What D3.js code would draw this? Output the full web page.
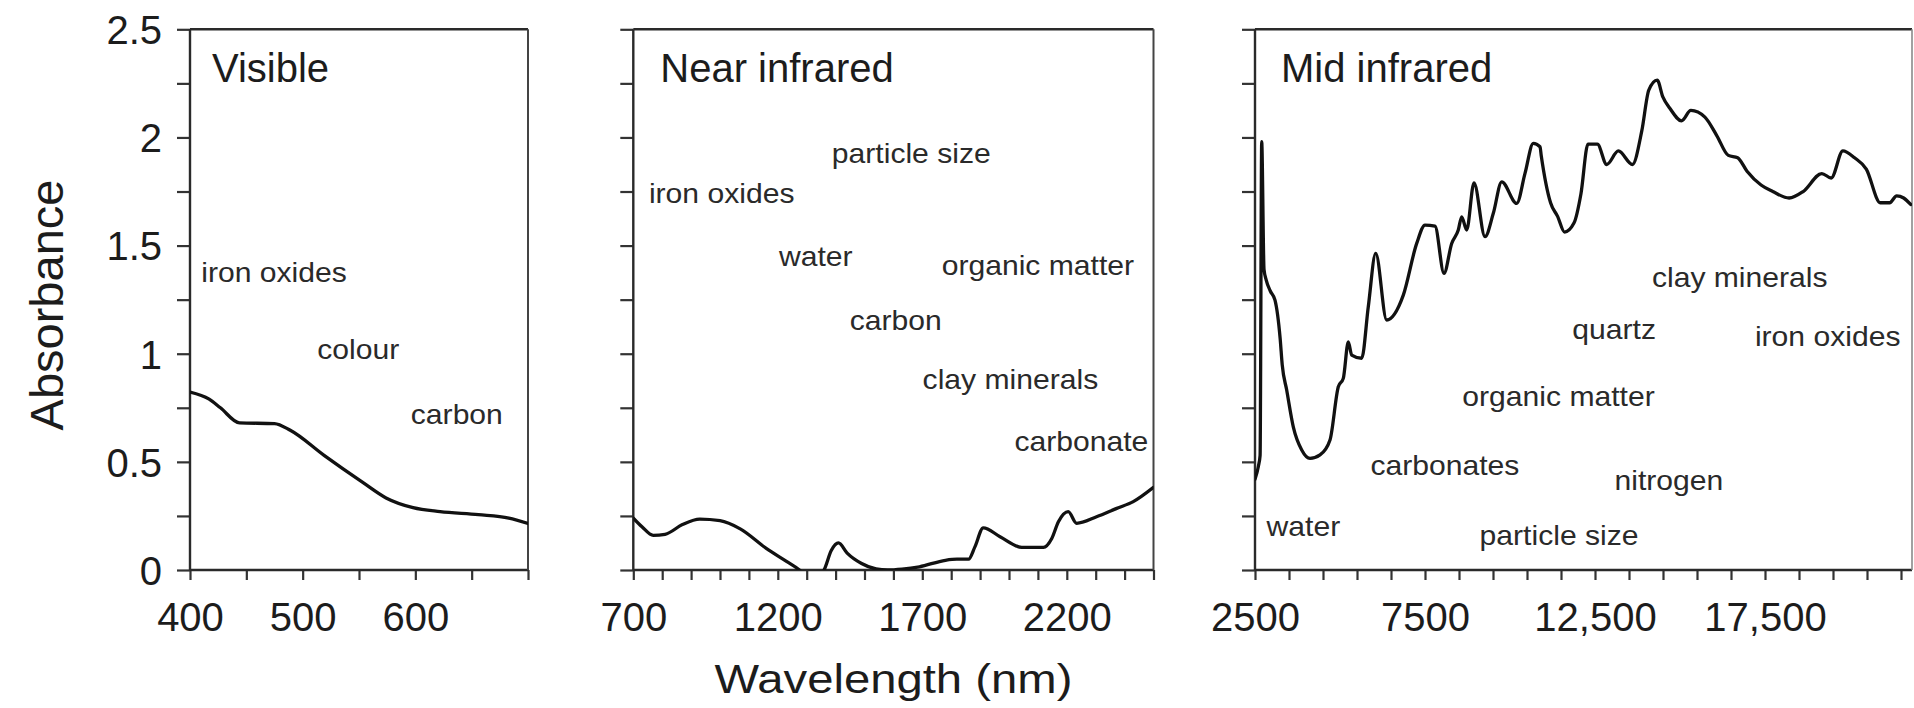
<!DOCTYPE html>
<html>
<head>
<meta charset="utf-8">
<script src="https://cdn.jsdelivr.net/npm/d3@7"></script>
<style>
  html, body { margin: 0; padding: 0; background: #fff; }
  svg { display: block; font-family: "Liberation Sans", Arial, Helvetica, sans-serif; }
</style>
</head>
<body>
<svg id="chart" width="1914" height="708"></svg>
<script>
// ---- Visible region (400–700 nm) ----
const visWavelength = [400, 417, 427, 444, 475, 489, 519, 553, 574, 598, 622, 656, 683, 700];
const visAbsorbance = [0.823, 0.79, 0.75, 0.68, 0.677, 0.646, 0.53, 0.406, 0.333, 0.288, 0.27, 0.256, 0.24, 0.215];

// ---- Near infrared (700–2500 nm) ----
const nirWavelength = [700, 730, 769, 810, 870, 930, 1000, 1070, 1160, 1230, 1275, 1300, 1340, 1360,
  1385, 1410, 1440, 1490, 1540, 1580, 1630, 1690, 1780, 1820, 1860, 1882, 1911, 1969,
  2044, 2119, 2148, 2171, 2205, 2234, 2303, 2373, 2430, 2500];
const nirAbsorbance = [0.24, 0.2, 0.16, 0.165, 0.21, 0.235, 0.228, 0.19, 0.1, 0.04, 0.0, -0.03, -0.03, 0.0,
  0.09, 0.125, 0.078, 0.03, 0.005, 0.0, 0.004, 0.015, 0.045, 0.05, 0.05, 0.107, 0.195, 0.154,
  0.105, 0.105, 0.146, 0.223, 0.27, 0.216, 0.246, 0.285, 0.316, 0.382];

// ---- Mid infrared (2500 nm onwards) ----
const mirWavelength = [2500, 2600, 2650, 2697, 2765, 2830, 2950, 3088, 3240, 3300, 3432, 3626, 3874, 4118,
  4412, 4706, 4950, 5097, 5244, 5344, 5638, 5832, 6050, 6373, 6862, 7256, 7500, 7794, 8059,
  8285, 8479, 8579, 8726, 8941, 9265, 9509, 9756, 10197, 10441, 10685, 10882, 10918, 11193, 11400,
  11606, 11881, 12087, 12294, 12569, 12844, 13188, 13601, 13876, 14082, 14330, 14495, 14701, 15045,
  15320, 15733, 16077, 16421, 16696, 16971, 17384, 17728, 18209, 18622, 19172, 19447, 19791, 20135,
  20479, 20892, 21167, 21373, 21579, 21785];
const mirAbsorbance = [0.42, 0.48, 0.53, 1.98, 1.39, 1.34, 1.29, 1.248, 1.07, 0.95, 0.832, 0.662, 0.555, 0.516,
  0.532, 0.601, 0.847, 0.886, 1.055, 0.994, 0.979, 1.217, 1.464, 1.156, 1.271, 1.51, 1.595, 1.59, 1.372,
  1.51, 1.572, 1.633, 1.572, 1.79, 1.541, 1.649, 1.795, 1.695, 1.834, 1.973, 1.957, 1.917, 1.698, 1.635,
  1.5625, 1.604, 1.74, 1.969, 1.969, 1.875, 1.9375, 1.875, 2.03, 2.219, 2.265, 2.1875, 2.135, 2.077,
  2.125, 2.094, 2.01, 1.917, 1.906, 1.844, 1.78, 1.75, 1.72, 1.75, 1.833, 1.8125, 1.9375, 1.906,
  1.854, 1.698, 1.698, 1.73, 1.72, 1.69];

// ---- Axis ticks and labels ----
const absorbanceTicks = [0, 0.25, 0.5, 0.75, 1, 1.25, 1.5, 1.75, 2, 2.25, 2.5];
const absorbanceLabelValues = [0, 0.5, 1, 1.5, 2, 2.5];
const absorbanceLabels = ["0", "0.5", "1", "1.5", "2", "2.5"];
const visLabelValues = [400, 500, 600];
const visLabels = ["400", "500", "600"];
const nirLabelValues = [700, 1200, 1700, 2200];
const nirLabels = ["700", "1200", "1700", "2200"];
const mirLabelValues = [2500, 7500, 12500, 17500];
const mirLabels = ["2500", "7500", "12,500", "17,500"];

// ---- Panel titles ----
const panelTitles = ["Visible", "Near infrared", "Mid infrared"];

// ---- Soil property annotations (wavelength, absorbance of the text baseline) ----
const visNotes = ["iron oxides", "colour", "carbon"];
const visNoteX = [410, 513, 596];
const visNoteY = [1.331, 0.975, 0.675];

const nirNotes = ["particle size", "iron oxides", "water", "organic matter", "carbon", "clay minerals", "carbonate"];
const nirNoteX = [1387, 754, 1204, 1767, 1449, 1701, 2019];
const nirNoteY = [1.884, 1.697, 1.405, 1.364, 1.111, 0.837, 0.548];

const mirNotes = ["clay minerals", "quartz", "iron oxides", "organic matter", "carbonates", "nitrogen", "water", "particle size"];
const mirNoteX = [14174, 11832, 17203, 8597, 5897, 13074, 2841, 9106];
const mirNoteY = [1.31, 1.07, 1.038, 0.757, 0.439, 0.37, 0.156, 0.114];

// ---------------------------------------------------------------------------
const svg = d3.select("#chart");
const plotTop = 29.3, plotBottom = 570;
const y = d3.scaleLinear().domain([0, 2.5]).range([plotBottom, plotTop]);

const panels = [
  { left: 190, right: 528, domain: [400, 700], step: 50, title: panelTitles[0], titleDx: 22,
    wl: visWavelength, ab: visAbsorbance, lv: visLabelValues, lt: visLabels,
    notes: visNotes, nx: visNoteX, ny: visNoteY, yLabels: true },
  { left: 633.3, right: 1153.5, domain: [700, 2500], step: 100, title: panelTitles[1], titleDx: 27,
    wl: nirWavelength, ab: nirAbsorbance, lv: nirLabelValues, lt: nirLabels,
    notes: nirNotes, nx: nirNoteX, ny: nirNoteY, yLabels: false },
  { left: 1255, right: 1912, domain: [2500, 2500 + (1912 - 1255) / 0.034], step: 1000, title: panelTitles[2], titleDx: 26,
    wl: mirWavelength, ab: mirAbsorbance, lv: mirLabelValues, lt: mirLabels,
    notes: mirNotes, nx: mirNoteX, ny: mirNoteY, yLabels: false }
];

const ink = "#1c1c1c";
const noteInk = "#2a2a2a";

panels.forEach((p, i) => {
  const x = d3.scaleLinear().domain(p.domain).range([p.left, p.right]);
  const g = svg.append("g");

  // clip the spectrum to the plotting box
  const clipId = "clip" + i;
  svg.append("clipPath").attr("id", clipId)
    .append("rect").attr("x", p.left).attr("y", plotTop)
    .attr("width", p.right - p.left).attr("height", plotBottom - plotTop);

  // x axis: minor ticks at every step, labels on selected values
  const xTicks = d3.range(p.domain[0], p.domain[1] + 1e-6, p.step);
  const xLab = new Map(p.lv.map((v, k) => [v, p.lt[k]]));
  const xa = g.append("g").attr("transform", `translate(0,${plotBottom})`)
    .call(d3.axisBottom(x).tickValues(xTicks).tickSize(10).tickSizeOuter(0)
      .tickFormat(d => xLab.has(d) ? xLab.get(d) : ""));
  xa.attr("font-size", null).attr("font-family", null);
  xa.select(".domain").remove();
  xa.selectAll(".tick line").attr("stroke", "#333").attr("stroke-width", 2.2);
  xa.selectAll(".tick text").attr("y", 61).attr("dy", null)
    .attr("font-size", 40).attr("fill", ink);

  // y axis: ticks every 0.25, labels only on the first panel
  const yLab = new Map(absorbanceLabelValues.map((v, k) => [v, absorbanceLabels[k]]));
  const ya = g.append("g").attr("transform", `translate(${p.left},0)`)
    .call(d3.axisLeft(y).tickValues(absorbanceTicks).tickSize(13).tickPadding(15).tickSizeOuter(0)
      .tickFormat(d => p.yLabels && yLab.has(d) ? yLab.get(d) : ""));
  ya.attr("font-size", null).attr("font-family", null);
  ya.select(".domain").remove();
  ya.selectAll(".tick line").attr("stroke", "#333").attr("stroke-width", 2.2);
  ya.selectAll(".tick text").attr("font-size", 40).attr("fill", ink).attr("dy", "0.36em");

  // frame
  const frame = g.append("g").attr("fill", "none");
  frame.append("line").attr("x1", p.left).attr("x2", p.right).attr("y1", plotTop).attr("y2", plotTop)
    .attr("stroke", "#2a2a2a").attr("stroke-width", 2.4);
  frame.append("line").attr("x1", p.left).attr("x2", p.right).attr("y1", plotBottom).attr("y2", plotBottom)
    .attr("stroke", "#2a2a2a").attr("stroke-width", 2.4);
  frame.append("line").attr("x1", p.left).attr("x2", p.left).attr("y1", plotTop).attr("y2", plotBottom)
    .attr("stroke", "#2a2a2a").attr("stroke-width", 2.4);
  frame.append("line").attr("x1", p.right).attr("x2", p.right).attr("y1", plotTop).attr("y2", plotBottom)
    .attr("stroke", i === 2 ? "#8a8a8a" : "#444").attr("stroke-width", i === 2 ? 1.6 : 2);

  // spectrum
  const pts = p.wl.map((w, k) => [w, p.ab[k]]);
  g.append("path").datum(pts)
    .attr("clip-path", `url(#${clipId})`)
    .attr("fill", "none").attr("stroke", "#111").attr("stroke-width", 3.3)
    .attr("stroke-linejoin", "round").attr("stroke-linecap", "round")
    .attr("d", d3.line().x(d => x(d[0])).y(d => y(d[1])).curve(d3.curveMonotoneX));

  // panel title
  g.append("text").attr("x", p.left + p.titleDx).attr("y", 82)
    .attr("font-size", 40).attr("fill", ink).text(p.title);

  // annotations
  const notes = g.append("g").attr("font-size", 28).attr("fill", noteInk);
  p.notes.forEach((t, k) => {
    const el = notes.append("text").attr("x", x(p.nx[k])).attr("y", y(p.ny[k])).text(t);
    const len = el.node().getComputedTextLength();
    el.attr("textLength", len * 1.075).attr("lengthAdjust", "spacingAndGlyphs");
  });
});

// axis titles
svg.append("text")
  .attr("transform", "translate(63,305) rotate(-90)")
  .attr("text-anchor", "middle").attr("font-size", 47).attr("fill", ink)
  .text("Absorbance");

const xt = svg.append("text")
  .attr("x", (633.3 + 1153.5) / 2).attr("y", 693)
  .attr("text-anchor", "middle").attr("font-size", 41).attr("fill", ink)
  .text("Wavelength (nm)");
xt.attr("textLength", 358).attr("lengthAdjust", "spacingAndGlyphs");
</script>
</body>
</html>
